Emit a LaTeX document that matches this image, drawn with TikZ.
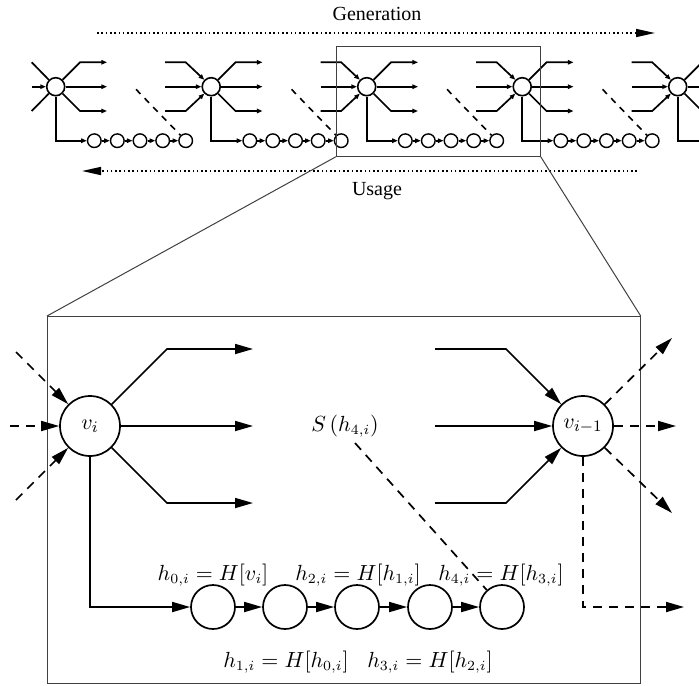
\documentclass[tikz,border=0pt]{standalone}
\usepackage{fontspec}
\newfontfamily\tnr{Liberation Serif}
\usetikzlibrary{arrows.meta}
\begin{document}
\begin{tikzpicture}[x=0.5pt,y=-0.5pt,
  bignode/.style={circle,draw,line width=0.85pt,minimum size=30pt,inner sep=0pt,font=\fontsize{11}{13}\selectfont},
  hnode/.style={circle,draw,line width=0.85pt,minimum size=22pt,inner sep=0pt},
  snode/.style={circle,draw,line width=0.8pt,minimum size=9pt,inner sep=0pt},
  tnode/.style={circle,draw,line width=0.7pt,minimum size=6.8pt,inner sep=0pt},
  ln/.style={line width=0.85pt},
  tl/.style={line width=0.85pt},
  bigtip/.style={-{Triangle[length=9pt,width=5pt]}},
  stip/.style={-{Triangle[length=2.8pt,width=2.2pt]}},
  dsh/.style={dash pattern=on 4.5pt off 3.5pt},
  tdsh/.style={line width=0.8pt,dash pattern=on 3.2pt off 3pt},
  dots/.style={line width=0.8pt,dash pattern=on 0.8pt off 1.35pt},
  frame/.style={draw=black!75,line width=0.5pt},
  lbl/.style={font=\fontsize{10.5}{12}\selectfont,inner sep=1pt}]
\useasboundingbox (0,0) rectangle (699,685);
\clip (0,0) rectangle (699,685);

% ---------- top strip ----------
\node[font=\tnr\fontsize{10}{12}\selectfont] (gen) at (377,14) {Generation};
\coordinate (g1) at (97,33); \coordinate (g2) at (655,33);
\draw[dots,-{Triangle[length=9.5pt,width=4pt]}] (g1) -- (g2);
\node[font=\tnr\fontsize{10}{12}\selectfont] (use) at (377,191) {Usage};
\coordinate (u1) at (637,171); \coordinate (u2) at (82,171);
\draw[dots,-{Triangle[length=9.5pt,width=4pt]}] (u1) -- (u2);

\foreach \k in {0,...,4}{
  \pgfmathsetmacro\X{55.7+155.5*\k}
  \node[snode] (n\k) at (\X,86.7) {};
  \foreach \j/\dx in {1/38.6,2/61.6,3/84.3,4/107,5/130}{
    \node[tnode] (t\k\j) at (\X+\dx,140.7) {};
  }
  % outputs
  \coordinate (ou\k) at (\X+51.3,62.3);
  \coordinate (om\k) at (\X+51.3,86.7);
  \coordinate (ol\k) at (\X+51.3,111);
  \draw[tl,stip] (n\k.45) -- (\X+24.3,62.3) -- (ou\k);
  \draw[tl,stip] (n\k) -- (om\k);
  \draw[tl,stip] (n\k.-45) -- (\X+24.3,111) -- (ol\k);
  % chain
  \draw[tl,stip] (n\k) |- (t\k1);
  \draw[tl,stip] (t\k1) -- (t\k2);
  \draw[tl,stip] (t\k2) -- (t\k3);
  \draw[tl,stip] (t\k3) -- (t\k4);
  \draw[tl,stip] (t\k4) -- (t\k5);
  % dashed to last hash
  \coordinate (d\k) at (\X+80.3,89.3);
  \draw[tdsh] (d\k) -- (t\k5);
  % inputs
  \ifnum\k=0
    \coordinate (iu\k) at (31.7,62.3);
    \coordinate (im\k) at (31.7,86.7);
    \coordinate (il\k) at (31.7,111);
    \draw[tl] (iu\k) -- (n\k.135);
    \draw[tl,stip] (im\k) -- (n\k);
    \draw[tl] (il\k) -- (n\k.-135);
  \else
    \coordinate (iu\k) at (\X-46,62.3);
    \coordinate (im\k) at (\X-46,86.7);
    \coordinate (il\k) at (\X-46,111);
    \draw[tl,stip] (iu\k) -- (\X-25.5,62.3) -- (n\k.135);
    \draw[tl,stip] (im\k) -- (n\k);
    \draw[tl,stip] (il\k) -- (\X-25.5,111) -- (n\k.-135);
  \fi
}

% zoom frame
\coordinate (ta) at (336,46); \coordinate (tb) at (540.7,156.7);
\draw[frame] (ta) rectangle (tb);
\coordinate (ba) at (47,316); \coordinate (bb) at (640.7,683);
\draw[frame] (ba) rectangle (bb);
\coordinate (tbl) at (336,156.7); \coordinate (tbr) at (540.7,156.7);
\coordinate (btl) at (47,316); \coordinate (btr) at (640.7,316);
\draw[frame] (tbl) -- (btl);
\draw[frame] (tbr) -- (btr);

% ---------- detail ----------
\node[bignode] (vi) at (90,426) {$v_i$};
\node[bignode] (vj) at (583,426) {$v_{i-1}$};

\coordinate (o1) at (253,349); \coordinate (o2) at (253,426); \coordinate (o3) at (253,503);
\draw[ln,bigtip] (vi.45) -- (167,349) -- (o1);
\draw[ln,bigtip] (vi) -- (o2);
\draw[ln,bigtip] (vi.-45) -- (167,503) -- (o3);

\coordinate (i1) at (435,349); \coordinate (i2) at (435,426); \coordinate (i3) at (435,503);
\draw[ln,bigtip] (i1) -- (506,349) -- (vj.135);
\draw[ln,bigtip] (i2) -- (vj);
\draw[ln,bigtip] (i3) -- (506,503) -- (vj.-135);

\coordinate (a1) at (16,352); \coordinate (a2) at (10,426); \coordinate (a3) at (16,500);
\draw[ln,dsh,bigtip] (a1) -- (vi.135);
\draw[ln,dsh,bigtip] (a2) -- (vi);
\draw[ln,dsh,bigtip] (a3) -- (vi.-135);

\coordinate (b1) at (672,338); \coordinate (b2) at (676,426); \coordinate (b3) at (672,513);
\draw[ln,dsh,bigtip] (vj.45) -- (b1);
\draw[ln,dsh,bigtip] (vj) -- (b2);
\draw[ln,dsh,bigtip] (vj.-45) -- (b3);
\coordinate (b4) at (684,607);
\draw[ln,dsh,bigtip] (vj) |- (b4);

\foreach \j/\x in {1/213,2/285,3/357,4/430,5/502}{
  \node[hnode] (h\j) at (\x,607) {};
}
\draw[ln,bigtip] (vi) |- (h1);
\draw[ln,bigtip] (h1) -- (h2);
\draw[ln,bigtip] (h2) -- (h3);
\draw[ln,bigtip] (h3) -- (h4);
\draw[ln,bigtip] (h4) -- (h5);

\node[lbl] (l0) at (213,575) {$h_{0,i}=H[v_i]$};
\node[lbl] (l2) at (358,575) {$h_{2,i}=H[h_{1,i}]$};
\node[lbl] (l4) at (501,575) {$h_{4,i}=H[h_{3,i}]$};
\node[lbl] (l1) at (286,662) {$h_{1,i}=H[h_{0,i}]$};
\node[lbl] (l3) at (430,662) {$h_{3,i}=H[h_{2,i}]$};

\node[lbl] (S) at (345,426) {$S\left(h_{4,i}\right)$};
\coordinate (sd) at (355,443);
\draw[ln,dsh] (sd) -- (h5);
\end{tikzpicture}
\end{document}
